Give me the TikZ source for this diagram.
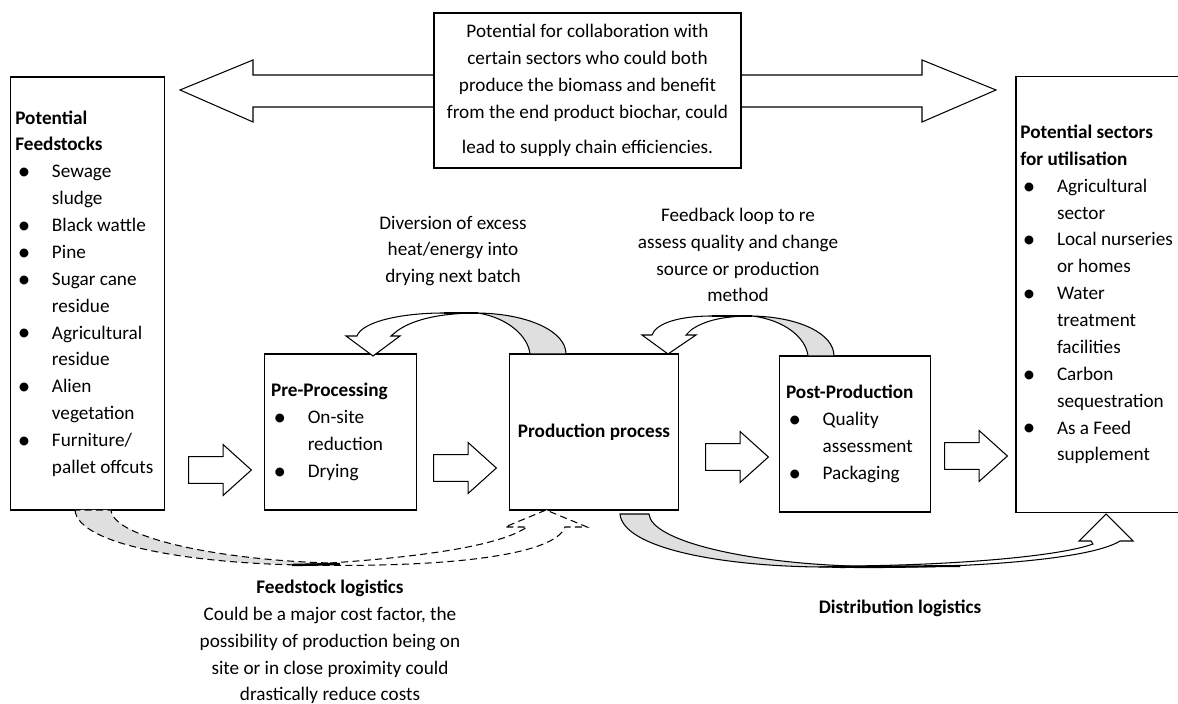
\documentclass[tikz,border=0pt]{standalone}
\usepackage{fontspec}
\usepackage{graphicx}
\setmainfont{Carlito}
\usetikzlibrary{shapes.arrows}

\newcommand{\itm}{\makebox[21pt][l]{\hspace{1.5pt}\raisebox{-0.2ex}{\scalebox{1.3}{\textbullet}}}}
\newcommand{\ind}{\hspace*{21pt}}

\begin{document}
\begin{tikzpicture}
  [x=0.573pt,y=-0.573pt,line width=0.6pt,
   every node/.style={font=\fontsize{11}{15.4}\selectfont},
   box/.style={draw,fill=white,align=flush left,inner xsep=2.5pt},
   stagebox/.style={box,inner xsep=4pt,text width=79.5pt,minimum height=89.4pt},
   note/.style={align=center},
   blockarrow/.style={draw,fill=white,single arrow,minimum height=36pt,inner xsep=0pt,
     inner ysep=7.4pt,single arrow head extend=6.9pt,single arrow tip angle=84},
   ribback/.style={draw,fill=gray!25},
   ribfront/.style={draw,fill=white},
   logline/.style={dash pattern=on 4pt off 2.5pt}]
  \useasboundingbox (0,0) rectangle (1178,704);
  \clip (0,0) rectangle (1178,704);

  % two-way arrow behind the collaboration note
  \draw[fill=white] (180,90) -- (253,60) -- (253,75) -- (922,75) -- (922,60) -- (996,90)
    -- (922,122) -- (922,107) -- (253,107) -- (253,122) -- cycle;
  \node[box,align=center,minimum width=175.9pt,minimum height=88.8pt] (collab) at (587.5,90.5)
    {Potential for collaboration with\\certain sectors who could both\\produce the biomass and benefit\\
     from the end product biochar, could\\[5pt]lead to supply chain efficiencies.};

  \node[box,text width=82.7pt,minimum height=248.1pt] (feed) at (87.5,293.5)
    {\textbf{Potential}\\\textbf{Feedstocks}\\
     \itm Sewage\\\ind sludge\\
     \itm Black wattle\\
     \itm Pine\\
     \itm Sugar cane\\\ind residue\\
     \itm Agricultural\\\ind residue\\
     \itm Alien\\\ind vegetation\\
     \itm Furniture/\\\ind pallet offcuts};
  \node[stagebox] (pre) at (340.5,432)
    {\textbf{Pre-Processing}\\\itm On-site\\\ind reduction\\\itm Drying};
  \node[box,align=center,minimum width=96.3pt,minimum height=89.4pt] (prod) at (594,432)
    {\textbf{Production process}};
  \node[stagebox,text width=79pt] (post) at (855,434)
    {\textbf{Post-Production}\\\itm Quality\\\ind assessment\\\itm Packaging};
  \node[box,text width=95.3pt,minimum height=249.3pt] (util) at (1103.5,294.5)
    {\textbf{Potential sectors}\\\textbf{for utilisation}\\
     \itm Agricultural\\\ind sector\\
     \itm Local nurseries\\\ind or homes\\
     \itm Water\\\ind treatment\\\ind facilities\\
     \itm Carbon\\\ind sequestration\\
     \itm As a Feed\\\ind supplement};

  \foreach \n/\x/\y in {a1/212.5/470,a2/457.5/468,a3/729.5/457,a4/968.5/456}
    \node[blockarrow] (\n) at (\x,\y) {};

  % loop back from production to pre-processing
  \draw[ribback] (478,313) .. controls (530,314) and (566,332) .. (566,354) -- (530,354)
    .. controls (528,336) and (508,318) .. (478,313) -- cycle;
  \draw[ribfront] (478,313) -- (444,313) .. controls (400,313) and (362,322) .. (357,336)
    -- (346,336) -- (373,356) -- (400,336) -- (391,336) -- (397,331)
    .. controls (415,318) and (445,313) .. (478,313) -- cycle;
  \draw[line width=1.4pt] (444,313) -- (478,313);

  % loop back from post-production to production
  \draw[ribback] (752,316) .. controls (800,317) and (834,334) .. (834,356) -- (808,356)
    .. controls (806,338) and (785,320) .. (752,316) -- cycle;
  \draw[ribfront] (752,316) -- (712,316) .. controls (680,316) and (656,323) .. (652,335)
    -- (642,335) -- (668,354) -- (696,335) -- (686,335) -- (691,330)
    .. controls (705,320) and (725,316) .. (752,316) -- cycle;
  \draw[line width=1.4pt] (712,316) -- (752,316);

  % feedstock logistics
  \draw[ribback,logline] (75,510) .. controls (78,545) and (190,563) .. (300,565) -- (330,563)
    .. controls (220,560) and (113,538) .. (111,510) -- cycle;
  \draw[ribfront,logline] (300,565) .. controls (450,568) and (555,555) .. (565,527)
    -- (587,527) -- (546,510) -- (505,527) -- (527,527)
    .. controls (500,546) and (420,557) .. (330,563) -- cycle;
  \draw[line width=1.4pt] (292,565) -- (340,564);

  % distribution logistics
  \draw[ribback] (620,514) .. controls (623,548) and (720,566) .. (820,567) -- (850,566)
    .. controls (740,562) and (651,540) .. (649,514) -- cycle;
  \draw[ribfront] (820,567) .. controls (960,570) and (1090,560) .. (1120,541) -- (1133,541)
    -- (1106,514) -- (1079,541) -- (1091,541) -- (1093,544)
    .. controls (1060,556) and (960,565) .. (850,566) -- cycle;
  \draw[line width=1.2pt] (840,567) -- (960,566);

  \node[note] (divtext) at (453,251) {Diversion of excess\\heat/energy into\\drying next batch};
  \node[note] (fbtext) at (738,255)
    {Feedback loop to re\\assess quality and change\\source or production\\method};
  \node[note] (logtext) at (330,642)
    {\textbf{Feedstock logistics}\\Could be a major cost factor, the\\possibility of production being on\\
     site or in close proximity could\\drastically reduce costs};
  \node[note] (disttext) at (900,608) {\textbf{Distribution logistics}};
\end{tikzpicture}
\end{document}
